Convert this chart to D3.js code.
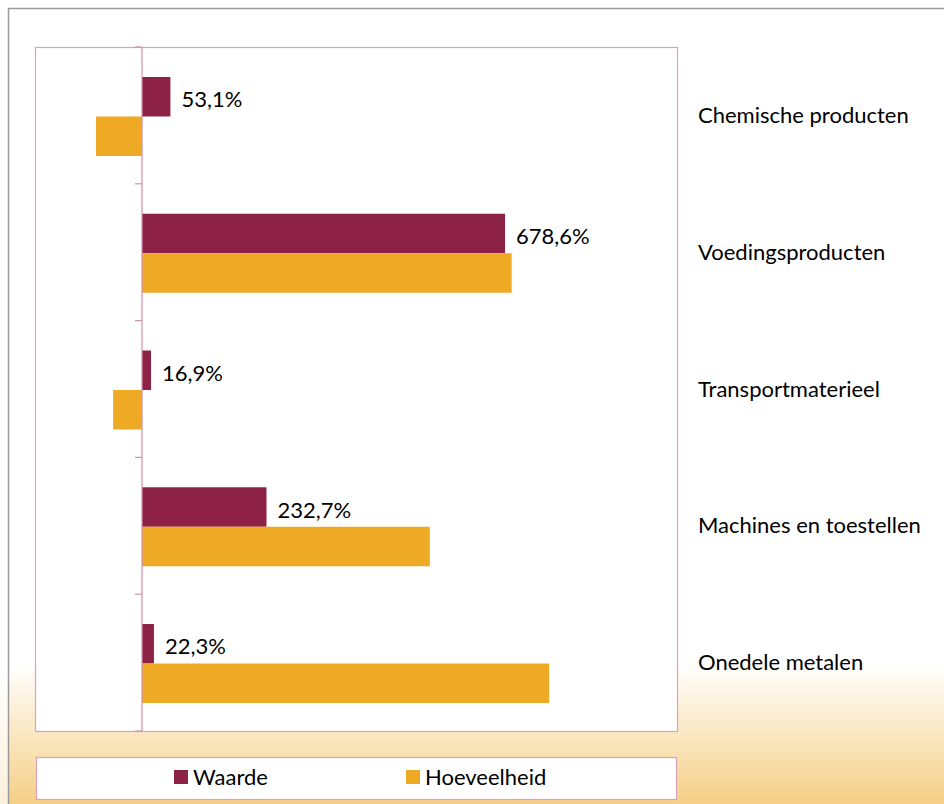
<!DOCTYPE html>
<html>
<head>
<meta charset="utf-8">
<script src="https://cdn.jsdelivr.net/npm/d3@7"></script>
<style>
html,body{margin:0;padding:0;background:#fff;}
svg{display:block;}
text{font-family:Lato,"Open Sans",sans-serif;fill:#000;}
</style>
</head>
<body>
<svg id="chart" width="944" height="804"></svg>
<script>
const categories = ["Chemische producten","Voedingsproducten","Transportmaterieel","Machines en toestellen","Onedele metalen"];
const seriesNames = ["Waarde","Hoeveelheid"];
const waarde = [53.1, 678.6, 16.9, 232.7, 22.3];
const hoeveelheid = [-86, 691, -54, 538, 761];
const waardeLabels = ["53,1%","678,6%","16,9%","232,7%","22,3%"];
const xDomain = [-200, 1000];

const colors = {Waarde:"#8e2146", Hoeveelheid:"#eeaa24"};
const svg = d3.select("#chart");
const W = 944, H = 804;
const FS = 22;

const defs = svg.append("defs");
const g1 = defs.append("linearGradient").attr("id","bgFrame").attr("gradientUnits","userSpaceOnUse")
  .attr("x1",0).attr("y1",0).attr("x2",0).attr("y2",H);
g1.append("stop").attr("offset",0).attr("stop-color","#ffffff");
g1.append("stop").attr("offset",0.825).attr("stop-color","#ffffff");
g1.append("stop").attr("offset",1).attr("stop-color","#f5cf86");
const g2 = defs.append("linearGradient").attr("id","bgOuter").attr("gradientUnits","userSpaceOnUse")
  .attr("x1",0).attr("y1",0).attr("x2",0).attr("y2",H);
g2.append("stop").attr("offset",0).attr("stop-color","#ffffff");
g2.append("stop").attr("offset",0.825).attr("stop-color","#ffffff");
g2.append("stop").attr("offset",1).attr("stop-color","#fcf1dc");

svg.append("rect").attr("x",0).attr("y",0).attr("width",W).attr("height",H).attr("fill","url(#bgOuter)");
svg.append("rect").attr("x",8.5).attr("y",8.5).attr("width",W+10).attr("height",H+10)
  .attr("fill","url(#bgFrame)").attr("stroke","#9a9a9a").attr("stroke-width",1.5);

const plot = {x0:35, x1:677, y0:47, y1:731};
svg.append("rect").attr("x",plot.x0+0.5).attr("y",plot.y0+0.5)
  .attr("width",plot.x1-plot.x0).attr("height",plot.y1-plot.y0)
  .attr("fill","#fff").attr("stroke","#d9a3b7").attr("stroke-width",1.2);

const x = d3.scaleLinear().domain(xDomain).range([plot.x0, plot.x1]);
const y = d3.scaleBand().domain(categories).range([plot.y0+1, plot.y1+1]).paddingInner(0.4225).paddingOuter(0.212);
const y1 = d3.scaleBand().domain(seriesNames).range([0, y.bandwidth()]);

const data = categories.map((c,i)=>({cat:c, Waarde:waarde[i], Hoeveelheid:hoeveelheid[i], label:waardeLabels[i]}));

const groups = svg.append("g").selectAll("g").data(data).join("g")
  .attr("transform", d=>`translate(0,${y(d.cat)})`);
groups.selectAll("rect").data(d=>seriesNames.map(s=>({s, v:d[s]}))).join("rect")
  .attr("x", d=>x(Math.min(0,d.v)))
  .attr("width", d=>Math.abs(x(d.v)-x(0)))
  .attr("y", d=>y1(d.s))
  .attr("height", y1.bandwidth())
  .attr("fill", d=>colors[d.s]);

// value labels for Waarde
groups.append("text")
  .attr("x", d=>x(Math.max(0,d.Waarde))+11)
  .attr("y", d=>y1("Waarde")+y1.bandwidth()/2+5)
  .attr("dominant-baseline","middle")
  .attr("font-size",FS)
  .text(d=>d.label);

// vertical axis at zero with ticks at category boundaries
const boundaries = d3.range(categories.length+1).map(i=>plot.y0 + (plot.y1-plot.y0)*i/categories.length);
const axisG = svg.append("g");
axisG.append("line").attr("x1",x(0)).attr("x2",x(0)).attr("y1",plot.y0).attr("y2",plot.y1)
  .attr("stroke","#d48fab").attr("stroke-width",1.2);
axisG.selectAll("line.tick").data(boundaries).join("line").attr("class","tick")
  .attr("x1",x(0)-7).attr("x2",x(0)).attr("y1",d=>d).attr("y2",d=>d)
  .attr("stroke","#d48fab").attr("stroke-width",1.2);

// category labels on right
svg.append("g").selectAll("text").data(categories).join("text")
  .attr("x",698).attr("y",d=>y(d)+y.bandwidth()/2+1)
  .attr("dominant-baseline","middle")
  .attr("font-size",FS)
  .text(d=>d);

// legend
const lg = svg.append("g");
lg.append("rect").attr("x",36.5).attr("y",757.5).attr("width",640).attr("height",42)
  .attr("fill","#fff").attr("stroke","#d9a3b7").attr("stroke-width",1.2);
const legendX = [174, 406];
seriesNames.forEach((s,i)=>{
  lg.append("rect").attr("x",legendX[i]).attr("y",770).attr("width",14).attr("height",14).attr("fill",colors[s]);
  lg.append("text").attr("x",legendX[i]+19).attr("y",779).attr("dominant-baseline","middle")
    .attr("font-size",FS).text(s);
});
</script>
</body>
</html>
